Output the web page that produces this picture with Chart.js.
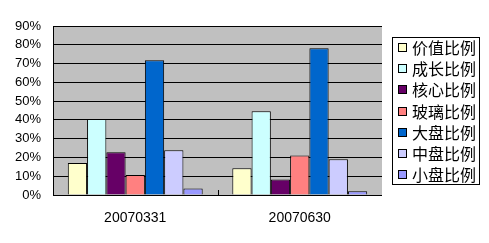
<!DOCTYPE html>
<html><head><meta charset="utf-8">
<script src="https://cdn.jsdelivr.net/npm/chart.js@4"></script>
<style>html,body{margin:0;padding:0;background:#fff;}#wrap{width:489px;height:243px;position:relative;}</style>
</head><body><div id="wrap"><canvas id="c" width="489" height="243"></canvas></div>
<script>
const categories = ["20070331", "20070630"];
const seriesNames = ["价值比例", "成长比例", "核心比例", "玻璃比例", "大盘比例", "中盘比例", "小盘比例"];
const seriesColors = ["#FFFFCC", "#CCFFFF", "#660066", "#FF8080", "#0066CC", "#CCCCFF", "#9999FF"];
const v_value = [17, 14.2];
const v_growth = [40.5, 44.6];
const v_core = [22.7, 8.3];
const v_glass = [10.6, 21.1];
const v_large = [71.7, 78.1];
const v_mid = [23.8, 19.0];
const v_small = [3.5, 2.0];
const yTicks = [0, 10, 20, 30, 40, 50, 60, 70, 80, 90];

const seriesValues = [v_value, v_growth, v_core, v_glass, v_large, v_mid, v_small];

const bgPlugin = {
  id: 'bg',
  beforeDraw(chart) {
    const {ctx, chartArea: a} = chart;
    ctx.save();
    ctx.fillStyle = '#C0C0C0';
    ctx.fillRect(a.left, a.top, a.right - a.left, a.bottom - a.top);
    ctx.restore();
  },
  afterDatasetsDraw(chart) {
    const {ctx, chartArea: a, scales} = chart;
    const xs = scales.x;
    ctx.save();
    ctx.strokeStyle = '#000';
    ctx.lineWidth = 1;
    ctx.beginPath();
    ctx.moveTo(Math.round(a.left) + 0.5, a.top);
    ctx.lineTo(Math.round(a.left) + 0.5, Math.round(a.bottom) + 0.5);
    ctx.lineTo(a.right, Math.round(a.bottom) + 0.5);
    for (let i = 0; i < categories.length - 1; i++) {
      const xb = Math.round((xs.getPixelForValue(i) + xs.getPixelForValue(i + 1)) / 2) + 0.5;
      ctx.moveTo(xb, a.bottom);
      ctx.lineTo(xb, a.bottom - 5);
    }
    ctx.stroke();
    const lx = 392, ly = 37, lw = 87, lh = 147;
    ctx.fillStyle = '#fff';
    ctx.fillRect(lx, ly, lw, lh);
    ctx.strokeRect(lx + 0.5, ly + 0.5, lw, lh);
    ctx.font = '16px "Noto Sans CJK SC"';
    ctx.textBaseline = 'middle';
    chart.data.datasets.forEach((ds, i) => {
      const cy = 48 + i * 21.2;
      ctx.fillStyle = ds.backgroundColor;
      ctx.fillRect(398, Math.round(cy - 5), 8, 8);
      ctx.strokeStyle = '#000';
      ctx.strokeRect(398.5, Math.round(cy - 5) + 0.5, 8, 8);
      ctx.fillStyle = '#000';
      ctx.fillText(ds.label, 412, cy);
    });
    ctx.restore();
  }
};

new Chart(document.getElementById('c'), {
  type: 'bar',
  data: {
    labels: categories,
    datasets: seriesNames.map((n, i) => ({
      label: n,
      data: seriesValues[i],
      backgroundColor: seriesColors[i],
      borderColor: '#000',
      borderWidth: 1,
      barPercentage: 1,
      categoryPercentage: 0.82
    }))
  },
  options: {
    responsive: false,
    animation: false,
    events: [],
    layout: {padding: {left: 0, right: 107, top: 26, bottom: 0}},
    plugins: {legend: {display: false}, tooltip: {enabled: false}},
    scales: {
      x: {
        grid: {display: false, drawTicks: false},
        border: {display: false},
        ticks: {color: '#000', font: {family: 'Liberation Sans', size: 14}, padding: 15, maxRotation: 0},
        afterFit(s) { s.height = 48; }
      },
      y: {
        min: 0, max: 90,
        afterBuildTicks(s) { s.ticks = yTicks.map(v => ({value: v})); },
        grid: {color: '#000', lineWidth: 1, drawTicks: false},
        border: {display: false},
        ticks: {color: '#000', font: {family: 'Liberation Sans', size: 13}, padding: 12, callback: v => v + '%'},
        afterFit(s) { s.width = 53; }
      }
    }
  },
  plugins: [bgPlugin]
});
</script></body></html>
